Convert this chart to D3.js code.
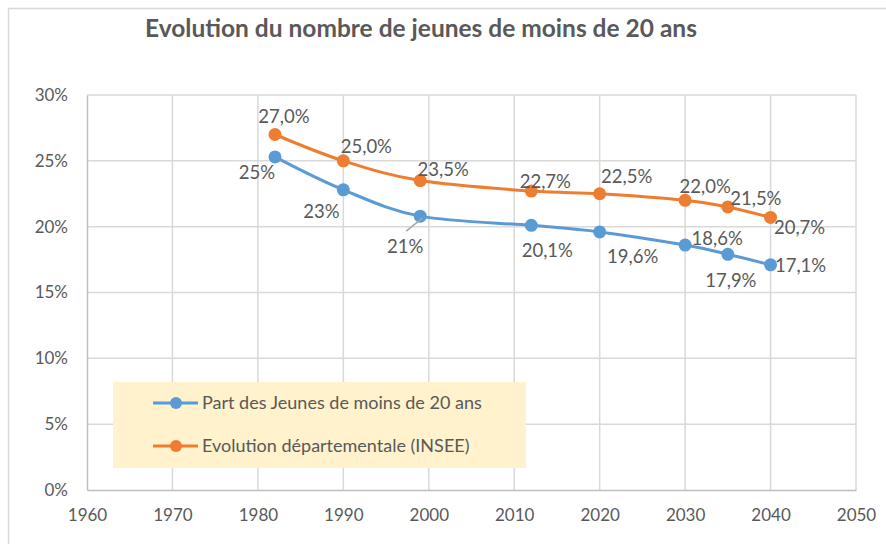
<!DOCTYPE html>
<html>
<head>
<meta charset="utf-8">
<script src="https://cdn.jsdelivr.net/npm/d3@7"></script>
<style>
  body { margin: 0; background: #fff; }
  text { font-family: Lato, "Liberation Sans", sans-serif; fill: #595959; }
</style>
</head>
<body>
<div id="chart"></div>
<script>
// data
var years = [1982, 1990, 1999, 2012, 2020, 2030, 2035, 2040];
var partJeunes = [25.3, 22.8, 20.8, 20.1, 19.6, 18.6, 17.9, 17.1];
var partLabels = ["25%", "23%", "21%", "20,1%", "19,6%", "18,6%", "17,9%", "17,1%"];
var insee = [27.0, 25.0, 23.5, 22.7, 22.5, 22.0, 21.5, 20.7];
var inseeLabels = ["27,0%", "25,0%", "23,5%", "22,7%", "22,5%", "22,0%", "21,5%", "20,7%"];
var xTicks = [1960, 1970, 1980, 1990, 2000, 2010, 2020, 2030, 2040, 2050];
var yTicks = [0, 5, 10, 15, 20, 25, 30];
var seriesNames = ["Part des Jeunes de moins de 20 ans", "Evolution départementale (INSEE)"];

// label offsets (layout, px from the point)
var partOffsets = [[-18, 22], [-22, 28], [-15, 37], [16, 32], [33, 31], [32, 0], [3, 33], [30, 7]];
var inseeOffsets = [[9, -12], [23, -8], [23, -5], [14, -3], [27, -11], [20, -7], [28, -2], [29, 17]];

var width = 886, height = 544;
var blue = "#5B9BD5", orange = "#ED7D31";

var svg = d3.select("#chart").append("svg")
	.attr("width", width)
	.attr("height", height);

// chart border
svg.append("path")
	.attr("d", "M8.5," + height + "V8.5H" + width)
	.attr("fill", "none")
	.attr("stroke", "#d9d9d9")
	.attr("stroke-width", 1.5);

svg.append("text")
	.attr("x", 421)
	.attr("y", 37)
	.attr("text-anchor", "middle")
	.style("font-size", "24.5px")
	.style("font-weight", "bold")
	.text("Evolution du nombre de jeunes de moins de 20 ans");

var x = d3.scaleLinear().domain([1960, 2050]).range([87, 856]);
var y = d3.scaleLinear().domain([0, 30]).range([490, 95]);

// gridlines
svg.append("g").selectAll("line")
	.data(yTicks.slice(1))
	.enter().append("line")
	.attr("x1", x(1960)).attr("x2", x(2050))
	.attr("y1", function(d){return y(d);}).attr("y2", function(d){return y(d);})
	.attr("stroke", "#d9d9d9").attr("stroke-width", 1.5);
svg.append("g").selectAll("line")
	.data(xTicks.slice(1))
	.enter().append("line")
	.attr("x1", function(d){return x(d);}).attr("x2", function(d){return x(d);})
	.attr("y1", y(0)).attr("y2", y(30))
	.attr("stroke", "#d9d9d9").attr("stroke-width", 1.5);

// axes
var yAxis = svg.append("g")
	.attr("transform", "translate(" + x(1960) + ",0)")
	.call(d3.axisLeft(y).tickValues(yTicks).tickSize(0).tickPadding(19)
		.tickFormat(function(d){return d + "%";}));
var xAxis = svg.append("g")
	.attr("transform", "translate(0," + y(0) + ")")
	.call(d3.axisBottom(x).tickValues(xTicks).tickSize(0).tickPadding(19)
		.tickFormat(d3.format("d")));
[yAxis, xAxis].forEach(function(a){
	a.select(".domain").attr("stroke", "#bfbfbf").attr("stroke-width", 1.5);
	a.selectAll("text").attr("font-family", null).style("font-size", "17px").style("fill", "#595959");
});
xAxis.selectAll("text").attr("dy", "0.72em");

// legend box (drawn before the lines like in the reference)
svg.append("rect")
	.attr("x", 113).attr("y", 382)
	.attr("width", 413).attr("height", 86)
	.attr("fill", "#FFF2CC");

var line = d3.line()
	.x(function(d){return x(d[0]);})
	.y(function(d){return y(d[1]);})
	.curve(d3.curveCatmullRom.alpha(0));

function drawSeries(vals, labels, offsets, color)
{
	var pts = years.map(function(yr, i){return [yr, vals[i]];});
	svg.append("path")
		.attr("d", line(pts))
		.attr("fill", "none")
		.attr("stroke", color)
		.attr("stroke-width", 3)
		.attr("stroke-linecap", "round");
	svg.append("g").selectAll("circle")
		.data(pts)
		.enter().append("circle")
		.attr("cx", function(d){return x(d[0]);})
		.attr("cy", function(d){return y(d[1]);})
		.attr("r", 6.5)
		.attr("fill", color);
	svg.append("g").selectAll("text")
		.data(pts)
		.enter().append("text")
		.attr("x", function(d, i){return x(d[0]) + offsets[i][0];})
		.attr("y", function(d, i){return y(d[1]) + offsets[i][1];})
		.attr("text-anchor", "middle")
		.style("font-size", "18.5px")
		.text(function(d, i){return labels[i];});
}

drawSeries(partJeunes, partLabels, partOffsets, blue);
drawSeries(insee, inseeLabels, inseeOffsets, orange);

// leader line for the 21% label
var lx = x(years[2]), ly = y(partJeunes[2]);
svg.append("line")
	.attr("x1", lx + 2).attr("y1", ly + 2)
	.attr("x2", lx - 14).attr("y2", ly + 15)
	.attr("stroke", "#a6a6a6").attr("stroke-width", 1.5);

// legend entries
var legend = svg.append("g").selectAll("g")
	.data(seriesNames)
	.enter().append("g")
	.attr("transform", function(d, i){return "translate(153," + (403 + i * 43) + ")";});
legend.append("line")
	.attr("x1", 0).attr("x2", 45)
	.attr("stroke", function(d, i){return i == 0 ? blue : orange;})
	.attr("stroke-width", 3);
legend.append("circle")
	.attr("cx", 23).attr("r", 6)
	.attr("fill", function(d, i){return i == 0 ? blue : orange;});
legend.append("text")
	.attr("x", 49).attr("y", 6)
	.style("font-size", "18px")
	.text(function(d){return d;});
</script>
</body>
</html>
